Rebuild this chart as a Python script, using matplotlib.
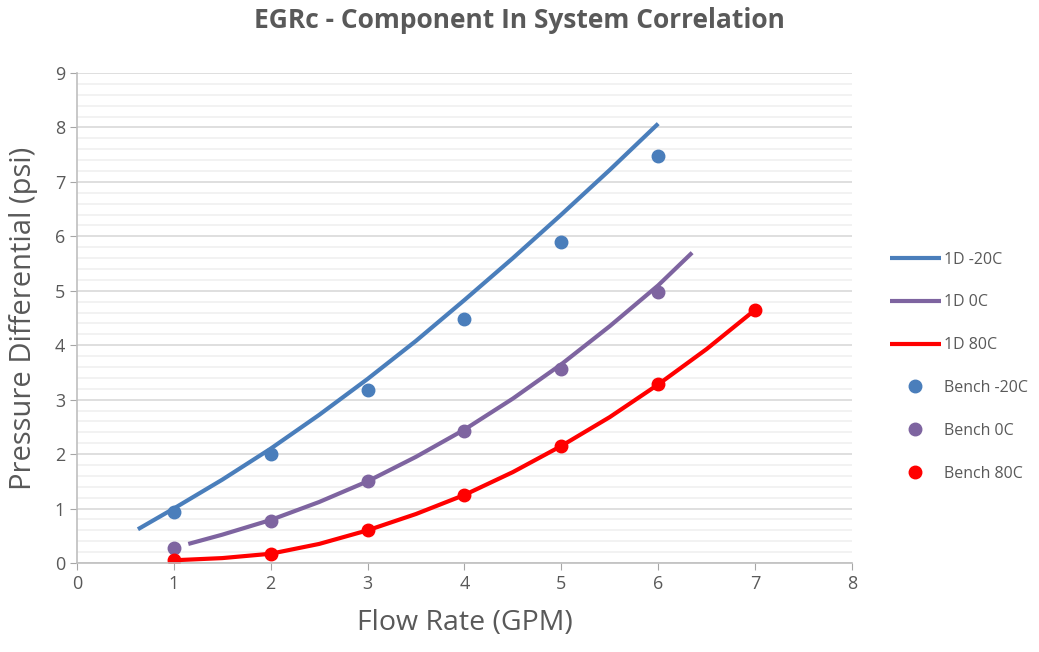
import numpy as np
import matplotlib
matplotlib.use("Agg")
import matplotlib.pyplot as plt
from matplotlib.ticker import MultipleLocator

plt.rcParams['font.family'] = ['Open Sans', 'DejaVu Sans']

# 1D model curves
x_m20 = [0.63, 1, 1.5, 2, 2.5, 3, 3.5, 4, 4.5, 5, 5.5, 6]
y_m20 = [0.62, 1.0, 1.53, 2.1, 2.72, 3.38, 4.08, 4.83, 5.6, 6.4, 7.22, 8.07]

x_0 = [1.15, 1.5, 2, 2.5, 3, 3.5, 4, 4.5, 5, 5.5, 6, 6.35]
y_0 = [0.35, 0.52, 0.79, 1.12, 1.5, 1.95, 2.45, 3.02, 3.65, 4.35, 5.1, 5.7]

x_80 = [1, 1.5, 2, 2.5, 3, 3.5, 4, 4.5, 5, 5.5, 6, 6.5, 7]
y_80 = [0.05, 0.09, 0.17, 0.35, 0.6, 0.9, 1.25, 1.67, 2.15, 2.68, 3.28, 3.93, 4.65]

# bench measurements
bx_m20 = [1, 2, 3, 4, 5, 6]
by_m20 = [0.93, 2.0, 3.18, 4.48, 5.9, 7.47]
bx_0 = [1, 2, 3, 4, 5, 6]
by_0 = [0.28, 0.78, 1.5, 2.42, 3.57, 4.97]
bx_80 = [1, 2, 3, 4, 5, 6, 7]
by_80 = [0.05, 0.16, 0.6, 1.25, 2.15, 3.28, 4.65]

blue = '#4A7EBB'
purple = '#7E64A0'
red = '#FF0000'
grey = '#595959'

fig = plt.figure(figsize=(10.39, 6.52), dpi=100)
ax = fig.add_axes([0.074, 0.1365, 0.746, 0.7515])

ax.plot(x_m20, y_m20, color=blue, lw=3, label='1D -20C', solid_capstyle='butt')
ax.plot(x_0, y_0, color=purple, lw=3, label='1D 0C', solid_capstyle='butt')
ax.plot(x_80, y_80, color=red, lw=3, label='1D 80C', solid_capstyle='butt')
ax.plot(bx_m20, by_m20, 'o', color=blue, ms=9, label='Bench -20C')
ax.plot(bx_0, by_0, 'o', color=purple, ms=9, label='Bench 0C')
ax.plot(bx_80, by_80, 'o', color=red, ms=9, label='Bench 80C')

ax.set_xlim(0, 8)
ax.set_ylim(0, 9)
ax.xaxis.set_major_locator(MultipleLocator(1))
ax.yaxis.set_major_locator(MultipleLocator(1))
ax.yaxis.set_minor_locator(MultipleLocator(0.2))
ax.grid(which='major', axis='y', color='#D9D9D9', lw=1.2)
ax.grid(which='minor', axis='y', color='#F0F0F0', lw=1.2)
ax.set_axisbelow(True)
ax.tick_params(which='minor', length=0)
ax.tick_params(which='major', colors='#A6A6A6', labelcolor=grey, labelsize=13, length=5, direction='out')

for s in ['top', 'right']:
    ax.spines[s].set_visible(False)
for s in ['left', 'bottom']:
    ax.spines[s].set_color('#BFBFBF')
    ax.spines[s].set_linewidth(1.2)

ax.set_xlabel('Flow Rate (GPM)', fontsize=20.5, color=grey, labelpad=12)
ax.set_ylabel('Pressure Differential (psi)', fontsize=21, color=grey, labelpad=12)
fig.suptitle('EGRc - Component In System Correlation', fontsize=19, fontweight='bold', color=grey, y=0.99)

leg = ax.legend(loc='upper left', bbox_to_anchor=(1.03, 0.665), frameon=False,
                fontsize=11.5, labelspacing=1.68, handlelength=3.2, handletextpad=0.2)
for t in leg.get_texts():
    t.set_color(grey)

fig.savefig('out.png', dpi=100)
